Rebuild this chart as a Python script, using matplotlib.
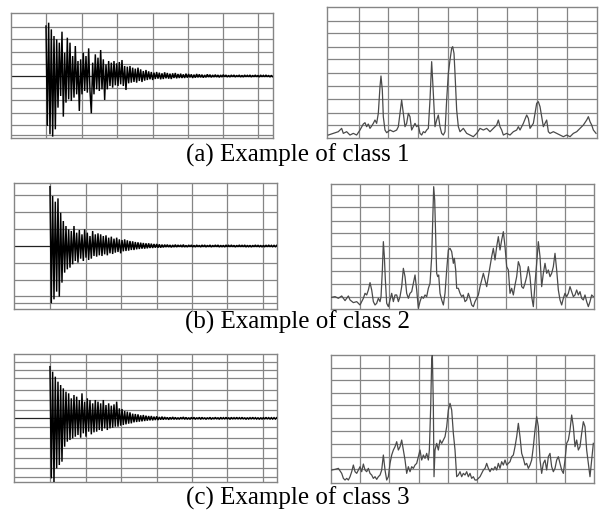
import numpy as np
import matplotlib
matplotlib.use("Agg")
import matplotlib.pyplot as plt

W, H = 604, 513

# ---------------- data: time-domain signals (amplitude, sampled every 4 time units) -------------
sig_a_onset = 138
sig_a = [150, -150, 160, -175, 140, -182, 120, -160, 110,
         -95, 100, -60, 133, -122, 70, -80, 115, -70, 100,
         -75, 60, -65, 90, -55, 45, -105, 50, -55, 70, -45, 60,
         -50, 83, -45, -112, 40, -55, 65, -40, 55, -45, 78, -40,
         50, -72, 35, -40, 45, -30, 40, -35, 45, -28, 38, -30,
         42, -25, 48, -30, 30, -42, 28, -22, 30, -20, 25, -18,
         22, -20, 25, -15, 20, -18, 15, -14, 18, -12, 14, -10, 12, -12,
         10, -9, 12, -8, 10, -10, 8, -9, 11, -7, 9, -8, 7, -9, 8, -6, 9, -7, 6, -6,
         7, -6, 5, -6, 7, -5, 6, -4, 5, -6, 4, -5, 6, -4, 5, -4, 4, -5, 3, -4,
         5, -3, 4, -4, 3, -3, 4, -3, 3, -4,
         3, -3, 4, -2, 3, -3, 2, -3, 3, -2, 3, -3, 2, -2, 3, -3, 2, -3, 3, -2,
         2, -2, 3, -3, 2, -2, 3, -2, 2, -3, 3, -2, 2, -2, 3, -2, 2, -3, 2, -2]

sig_b_onset = 150
sig_b = [178, -172, 150, -160, 133, -137, 143, -152, 100, -110,
         75, -80, 60, -70, 50, -65, 45, -55, 60, -45,
         40, -50, 48, -38, 35, -45, 50, -35, 40, -42, 30, -38, 45, -30, 35,
         -32, 38, -28, 35, -30, 30, -25, 32, -28, 25, -22, 28, -24, 22, -20,
         25, -18, 20, -22, 18, -16, 20, -15, 17, -14, 15, -12, 14, -12, 12,
         -10, 11, -9, 10, -8, 9, -8, 8, -7, 8, -6, 7, -6, 6, -5, 6, -5, 5, -5, 4,
         -4, 4, -3, 4, -3, 3, -4, 3, -3, 4, -3, 3, -2, 3, -3, 4, -3, 2, -3, 3,
         -2, 3, -3, 2, -3, 3, -2, 2, -3, 3, -2, 3, -3, 2, -2, 3, -3, 2, -2, 3,
         -2, 3, -3, 2, -2, 2, -3, 3, -2, 2, -2, 3, -2, 2, -3, 2, -2, 3, -2, 2,
         -2, 3, -3, 2, -2, 2, -3, 2, -2, 3, -2, 2, -2, 2, -3, 2, -2, 2, -2, 3,
         -2, 2, -2, 2, -2, 2]

sig_c_onset = 150
sig_c = [155, -180, 140, -195, 125, -150, 110, -140, 100, -130,
         90, -85, 80, -70, 75, -65, 60, -60, 70, -55,
         65, -50, 55, -58, 75, -45, 50, -55, 60, -40, 55, -48, 45, -42, 55,
         -40, 50, -35, 45, -38, 55, -30, 40, -35, 45, -30, 38, -28, 42, -25,
         50, -25, 30, -22, 28, -20, 22, -18, 20, -16, 18, -15, 14, -12, 13,
         -11, 12, -10, 9, -9, 10, -8, 8, -7, 7, -6, 7, -6, 5, -5, 6, -5, 4, -4, 5,
         -4, 4, -3, 3, -4, 3, -3, 4, -3, 3, -3, 2, -3, 3, -2, 4, -3, 3, -3, 2,
         -3, 3, -2, 3, -3, 2, -2, 3, -3, 3, -2, 2, -3, 2, -2, 3, -3, 2, -2, 3,
         -2, 2, -3, 3, -2, 2, -2, 3, -2, 2, -3, 3, -2, 2, -2, 3, -2, 2, -2, 3,
         -2, 2, -3, 2, -2, 2, -2, 3, -2, 2, -2, 2, -3, 2, -2, 2, -2, 3, -2, 2,
         -2, 2, -2, 2, -2, 2]

# ---------------- data: spectra (frequency bin, magnitude) ----------------
spec_a_f = [55, 70, 85, 95, 100, 110, 120, 130, 140, 150, 160, 165, 170, 175, 180, 185, 190, 195, 200, 205,
            210, 213, 217, 220, 225, 230, 240, 250, 260, 265, 270, 275, 280, 285, 290, 295, 300, 305, 310, 315,
            320, 325, 330, 335, 340, 345, 350, 355, 360, 365, 370, 375, 380, 385, 390, 395, 400, 405, 410, 415,
            420, 425, 428, 432, 435, 440, 445, 450, 460, 470, 480, 490, 500, 510, 520, 530, 540, 550, 560, 565,
            570, 575, 580, 590, 600, 610, 620, 625, 630, 640, 650, 655, 660, 670, 675, 680, 685, 690, 695, 700,
            705, 710, 715, 720, 730, 740, 750, 760, 770, 780, 790, 800, 810, 820, 830, 835, 840, 845, 850, 858]
spec_a_m = [8, 13, 18, 28, 13, 18, 8, 13, 8, 23, 41, 45, 33, 41, 28, 35, 43, 53, 43, 73,
            153, 185, 143, 63, 23, 15, 23, 18, 23, 33, 73, 113, 73, 33, 43, 73, 63, 23, 33, 43,
            33, 38, 13, 8, 18, 15, 23, 28, 113, 228, 133, 33, 53, 68, 33, 13, 8, 18, 113, 193,
            233, 268, 273, 253, 193, 83, 33, 18, 28, 13, 8, 3, 13, 28, 23, 28, 18, 28, 38, 53,
            33, 23, 8, 13, 8, 18, 23, 33, 23, 43, 68, 58, 28, 43, 73, 103, 108, 93, 63, 33,
            43, 53, 18, 13, 18, 13, 8, 3, 8, 3, 13, 18, 28, 38, 53, 63, 48, 38, 23, 13]

spec_b_f = [65, 75, 85, 95, 105, 115, 120, 130, 140, 150, 160, 165, 170, 175, 180, 185, 190, 195, 200, 205,
            210, 213, 217, 220, 223, 226, 230, 235, 240, 245, 250, 255, 260, 265, 270, 275, 280, 285, 290, 295,
            300, 305, 310, 315, 320, 325, 330, 335, 340, 345, 350, 355, 360, 365, 368, 371, 374, 377, 380, 383,
            386, 390, 395, 400, 405, 410, 415, 420, 425, 430, 433, 437, 440, 445, 450, 455, 460, 465, 470, 475,
            480, 485, 490, 495, 500, 505, 510, 515, 520, 525, 530, 535, 540, 545, 550, 555, 560, 565, 570, 575,
            580, 585, 590, 595, 600, 605, 610, 615, 620, 625, 630, 635, 640, 645, 650, 655, 660, 665, 670, 675,
            680, 685, 690, 695, 700, 705, 710, 715, 720, 725, 730, 735, 740, 745, 750, 755, 760, 765, 770, 775,
            780, 785, 790, 795, 800, 805, 810, 815, 820, 825, 830, 835, 840, 845, 850]
spec_b_m = [36, 38, 33, 40, 26, 40, 28, 20, 23, 13, 33, 48, 43, 58, 80, 58, 23, 13, 18, 33,
            23, 38, 118, 203, 158, 88, 18, 8, 28, 48, 23, 43, 43, 23, 38, 68, 123, 98, 48, 33,
            48, 53, 78, 103, 58, 3, 23, 38, 33, 43, 38, 63, 78, 158, 268, 368, 328, 218, 108, 98,
            103, 48, 28, 13, 48, 118, 178, 183, 173, 138, 153, 118, 63, 63, 48, 38, 43, 23, 28, 48,
            33, 13, 8, 23, 33, 43, 68, 88, 108, 88, 68, 98, 128, 158, 183, 148, 188, 218, 178, 208,
            233, 188, 128, 118, 48, 63, 43, 73, 98, 143, 128, 68, 63, 78, 98, 128, 98, 38, 8, 78,
            138, 203, 158, 68, 108, 138, 108, 118, 98, 108, 128, 168, 118, 58, 28, 13, 33, 48, 38, 48,
            68, 53, 38, 43, 58, 43, 53, 33, 28, 43, 23, 8, 23, 43, 38]

spec_c_f = [65, 75, 85, 95, 100, 105, 110, 115, 120, 125, 130, 135, 140, 145, 150, 155, 160, 165, 170, 175,
            180, 185, 190, 195, 200, 205, 210, 215, 220, 225, 230, 235, 240, 245, 250, 255, 260, 265, 270, 275,
            280, 285, 290, 295, 300, 305, 310, 315, 320, 325, 330, 335, 340, 345, 350, 355, 358, 362, 365, 367,
            370, 372, 375, 380, 385, 390, 395, 400, 405, 410, 415, 420, 425, 430, 435, 440, 445, 450, 455, 460,
            465, 470, 475, 480, 485, 490, 495, 500, 505, 510, 515, 520, 525, 530, 535, 540, 545, 550, 555, 560,
            565, 570, 575, 580, 585, 590, 595, 600, 605, 610, 615, 620, 625, 630, 635, 640, 645, 650, 655, 660,
            665, 670, 675, 680, 685, 690, 695, 700, 705, 710, 715, 720, 725, 730, 735, 740, 745, 750, 755, 760,
            765, 770, 775, 780, 785, 790, 795, 800, 805, 810, 815, 820, 825, 830, 835, 840, 845, 850]
spec_c_m = [38, 40, 43, 28, 13, 8, 13, 8, 18, 33, 53, 33, 28, 38, 48, 33, 56, 38, 33, 43,
            28, 23, 13, 18, 10, 18, 23, 38, 83, 38, 8, 18, 58, 83, 98, 108, 123, 98, 108, 128,
            98, 68, 28, 48, 33, 48, 43, 53, 58, 78, 98, 68, 83, 73, 88, 68, 98, 228, 368, 383,
            228, 18, 98, 118, 98, 128, 118, 128, 138, 168, 218, 238, 218, 148, 98, 18, 23, 33, 18, 28,
            23, 33, 18, 28, 13, 18, 8, 8, 13, 18, 28, 38, 43, 58, 43, 33, 43, 38, 48, 38,
            58, 43, 63, 53, 68, 53, 58, 63, 78, 83, 108, 138, 178, 138, 88, 73, 53, 58, 43, 53,
            68, 108, 158, 198, 168, 68, 28, 58, 68, 38, 78, 88, 48, 33, 43, 68, 78, 58, 38, 28,
            68, 118, 128, 158, 203, 168, 108, 128, 98, 108, 148, 183, 168, 98, 58, 18, 68, 118]

captions = ["(a) Example of class 1", "(b) Example of class 2", "(c) Example of class 3"]

# ---------------- layout (pixel boxes) ----------------
fig = plt.figure(figsize=(W / 100, H / 100), dpi=100)
fig.patch.set_facecolor("white")

GRID_C = "#858585"


def add_panel(x0, x1, y0, y1):
    return fig.add_axes([x0 / W, 1 - y1 / H, (x1 - x0) / W, (y1 - y0) / H])


def style(ax, xlim, ylim, vlines, hlines):
    ax.set_xlim(*xlim)
    ax.set_ylim(*ylim)
    ax.set_xticks([])
    ax.set_yticks([])
    for s in ax.spines.values():
        s.set_color(GRID_C)
        s.set_linewidth(1.0)
    for v in vlines:
        ax.axvline(v, color=GRID_C, lw=0.9, zorder=1)
    for h in hlines:
        ax.axhline(h, color=GRID_C, lw=0.9, zorder=1)


left_specs = [
    dict(box=(11, 273.3, 12.7, 138.3), xlim=(33, 820), ylim=(-187, 190),
         v=[138, 245, 350, 458, 563, 668, 775],
         h=[147, 110, 73, 37, 0, -37, -73, -110, -146, -176],
         sig=sig_a, onset=sig_a_onset),
    dict(box=(14.3, 276.7, 182.7, 309.3), xlim=(43, 830), ylim=(-190, 190),
         v=[150, 258, 362, 470, 575, 682, 790],
         h=[153, 101, 50, 0, -52, -102, -150, -170],
         sig=sig_b, onset=sig_b_onset),
    dict(box=(14.3, 276.7, 354, 481.7), xlim=(43, 830), ylim=(-190, 193),
         v=[150, 258, 362, 470, 575, 682, 790],
         h=[170, 145, 120, 85, 55, 25, 0, -27, -60, -90, -120, -150, -175],
         sig=sig_c, onset=sig_c_onset),
]

right_specs = [
    dict(box=(327.3, 596.7, 7.3, 137.7), xlim=(52, 860), ylim=(0, 391),
         v=[148, 235, 323, 413, 502, 590, 680, 770],
         h=[38, 75, 115, 155, 195, 235, 273, 313, 351],
         f=spec_a_f, m=spec_a_m),
    dict(box=(330.7, 594, 184, 309.3), xlim=(62, 852), ylim=(0, 376),
         v=[150, 238, 325, 415, 500, 588, 678, 765],
         h=[38, 76, 115, 153, 190, 228, 266, 306, 343],
         f=spec_b_f, m=spec_b_m),
    dict(box=(330.7, 594, 355, 482.7), xlim=(62, 852), ylim=(0, 383),
         v=[150, 238, 327, 415, 500, 590, 678, 765],
         h=[40, 78, 116, 156, 193, 233, 270, 308, 343],
         f=spec_c_f, m=spec_c_m),
]

for spec in left_specs:
    ax = add_panel(*spec["box"])
    style(ax, spec["xlim"], spec["ylim"], spec["v"], spec["h"])
    ax.axhline(0, color="#222222", lw=0.8, zorder=2)
    vals = np.array(spec["sig"], dtype=float)
    t = spec["onset"] + 4 * np.arange(len(vals))
    ax.plot(t, vals, color="black", lw=1.05, zorder=3, solid_joinstyle="miter")

for spec in right_specs:
    ax = add_panel(*spec["box"])
    style(ax, spec["xlim"], spec["ylim"], spec["v"], spec["h"])
    ax.plot(spec["f"], spec["m"], color="#4a4a4a", lw=0.9, zorder=3)

cap_y = [155, 322, 498]
for txt, y in zip(captions, cap_y):
    fig.text(297.5 / W, 1 - y / H, txt, ha="center", va="center",
             fontsize=18, family="Liberation Serif", color="black")

fig.savefig("out.png", dpi=100)
